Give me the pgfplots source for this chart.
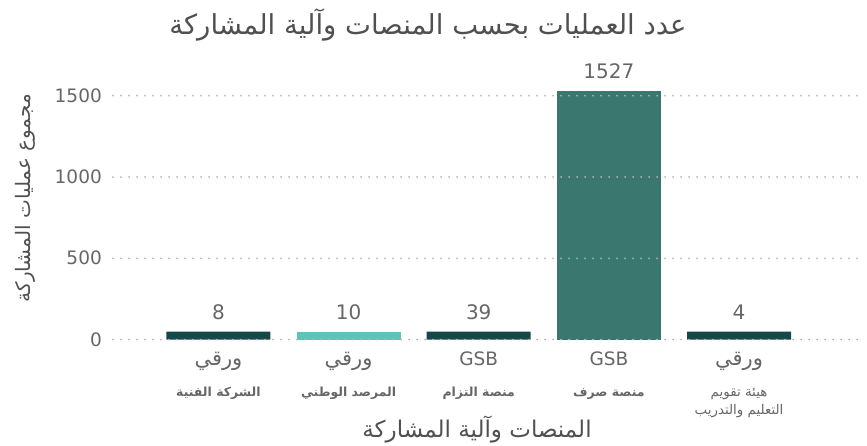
\documentclass[border=0pt]{standalone}
\usepackage{pgfplots}
\pgfplotsset{compat=1.18}
\usepackage{fontspec}
\setmainfont{DejaVu Sans}
\newfontfamily\arabicfont[Script=Arabic]{DejaVu Sans}
\TeXXeTstate=1
\definecolor{darkbar}{HTML}{154848}
\definecolor{lightbar}{HTML}{5DC4B8}
\definecolor{midbar}{HTML}{3A776F}
\definecolor{txt}{HTML}{505050}
\definecolor{tick}{HTML}{666666}
\definecolor{gridc}{HTML}{B3B3B3}
\newcommand{\bigar}{\arabicfont\fontsize{21}{22}\selectfont}
\newcommand{\sml}{\arabicfont\bfseries\fontsize{12.5}{14}\selectfont}
\newcommand{\smr}{\arabicfont\fontsize{13.4}{17}\selectfont}
\begin{document}
\begin{tikzpicture}[x=1pt,y=1pt]
\useasboundingbox (0,0) rectangle (867,445);
\begin{axis}[
  at={(113pt,105.5pt)}, anchor=south west,
  scale only axis, width=751pt, height=260pt,
  xmin=-0.81, xmax=4.96, ymin=0, ymax=1600,
  axis line style={draw=none}, tick style={draw=none},
  ytick={0,500,1000,1500},
  ymajorgrids, grid style={gridc, line width=2pt, dash pattern=on 0pt off 8pt, line cap=round},
  axis on top,
  /pgf/number format/assume math mode=true,
  /pgf/number format/1000 sep={},
  yticklabel style={font=\fontsize{18.5}{20}\selectfont, text=tick, anchor=east, inner sep=0pt, xshift=-11pt},
  xtick={0,1,2,3,4},
  xticklabels={
    {{\bigar\beginR ورقي\endR}\\[16pt]{\sml\beginR الشركة الفنية\endR}},
    {{\bigar\beginR ورقي\endR}\\[16pt]{\sml\beginR المرصد الوطني\endR}},
    {{\fontsize{18.5}{22}\selectfont GSB}\\[19pt]{\sml\beginR منصة التزام\endR}},
    {{\fontsize{18.5}{22}\selectfont GSB}\\[19pt]{\sml\beginR منصة صرف\endR}},
    {{\bigar\beginR ورقي\endR}\\[17pt]{\smr\beginR هيئة تقويم\endR}\\[3pt]{\smr\beginR التعليم والتدريب\endR}}
  },
  xticklabel style={align=center, anchor=north, inner sep=0pt, yshift=-8pt, text=tick},
  ybar, bar width=104pt, bar shift=0pt,
  nodes near coords, point meta=explicit,
  nodes near coords style={font=\fontsize{20}{22}\selectfont, text=tick, anchor=south, inner sep=0pt, yshift=12pt},
]
\addplot[fill=darkbar, draw=none] table[x=x, y expr={max(\thisrow{v},48)}, meta=v, row sep=\\] {x v\\ 0 8\\ 2 39\\ 4 4\\};
\addplot[fill=lightbar, draw=none] table[x=x, y expr={max(\thisrow{v},48)}, meta=v, row sep=\\] {x v\\ 1 10\\};
\addplot[fill=midbar, draw=none] table[x=x, y expr={max(\thisrow{v},48)}, meta=v, row sep=\\] {x v\\ 3 1527\\};
\end{axis}
\node[text=txt] at (428,420) {\arabicfont\fontsize{27.5}{30}\selectfont\beginR عدد العمليات بحسب المنصات وآلية المشاركة\endR};
\node[text=txt] at (477,15) {\arabicfont\fontsize{23}{26}\selectfont\beginR المنصات وآلية المشاركة\endR};
\node[text=txt, rotate=90] at (25,247) {\arabicfont\fontsize{20}{24}\selectfont\beginR مجموع عمليات المشاركة\endR};
\end{tikzpicture}
\end{document}
